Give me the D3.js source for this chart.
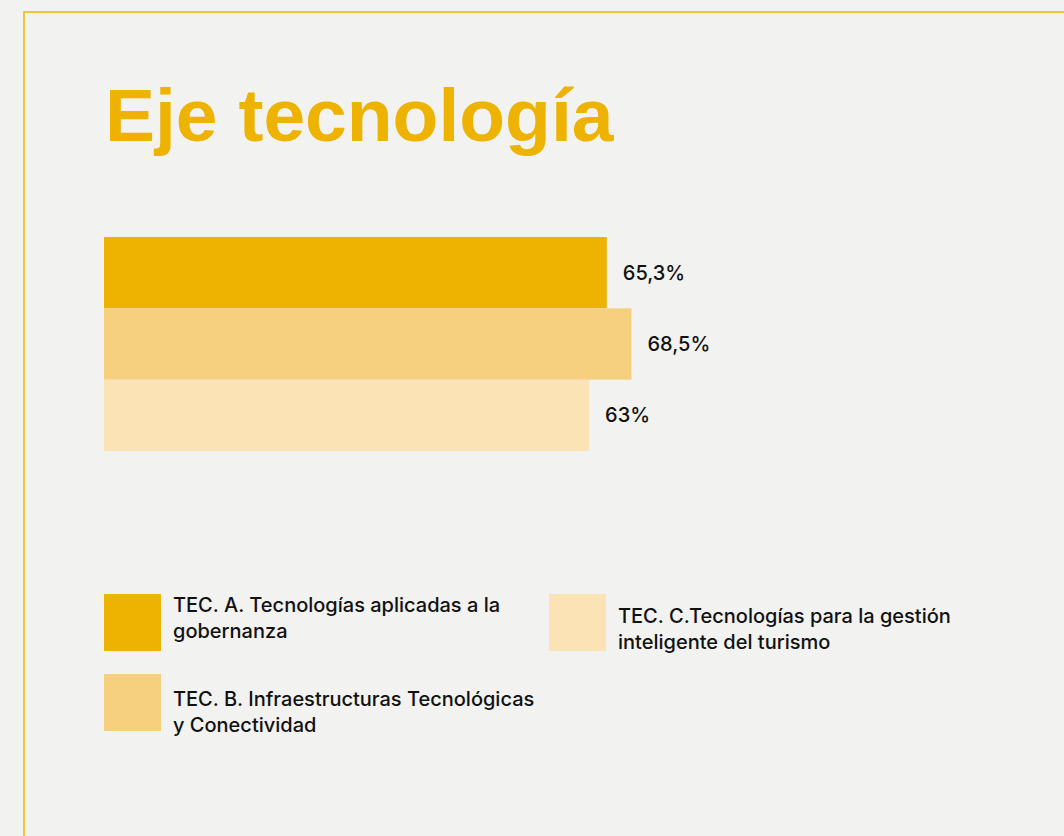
<!DOCTYPE html>
<html>
<head>
<meta charset="utf-8">
<script src="https://cdn.jsdelivr.net/npm/d3@7"></script>
<style>
  html, body { margin: 0; padding: 0; background: #f2f2f0; }
  svg { display: block; }
</style>
</head>
<body>
<div id="chart"></div>
<script>
const categories = ["TEC. A", "TEC. B", "TEC. C"]
const values = [65.3, 68.5, 63]
const valueLabels = ["65,3%", "68,5%", "63%"]
const legendLines = [
    ["TEC. A. Tecnologías aplicadas a la", "gobernanza"],
    ["TEC. B. Infraestructuras Tecnológicas", "y Conectividad"],
    ["TEC. C.Tecnologías para la gestión", "inteligente del turismo"]
]
const colors = ["#eeb200", "#f6d07e", "#fbe3b6"]

const W = 1064, H = 836

const svg = d3.select("#chart")
    .append("svg")
    .attr("width", W)
    .attr("height", H)

svg.append("rect")
    .attr("width", W)
    .attr("height", H)
    .attr("fill", "#f2f2f0")

// frame, open on the right and bottom
svg.append("path")
    .attr("d", `M24,${H + 5} V12 H${W + 5}`)
    .attr("fill", "none")
    .attr("stroke", "#f3c43a")
    .attr("stroke-width", 2)

svg.append("text")
    .attr("x", 105)
    .attr("y", 141)
    .attr("font-family", "Liberation Sans, Arial, sans-serif")
    .attr("font-weight", "bold")
    .attr("font-size", 75)
    .attr("fill", "#eeb200")
    .text("Eje tecnología")

const x = d3.scaleLinear()
    .domain([0, 100])
    .range([104, 104 + 770])

const y = d3.scaleBand()
    .domain(categories)
    .range([237, 451])
    .padding(0)

const g = svg.append("g")

g.selectAll("rect.bar")
    .data(values)
    .join("rect")
        .classed("bar", true)
        .attr("x", x(0))
        .attr("y", (d, i) => y(categories[i]))
        .attr("width", d => x(d) - x(0))
        .attr("height", y.bandwidth())
        .attr("fill", (d, i) => colors[i])

g.selectAll("text.val")
    .data(values)
    .join("text")
        .classed("val", true)
        .attr("x", d => x(d) + 16)
        .attr("y", (d, i) => y(categories[i]) + y.bandwidth() / 2)
        .attr("dy", "0.35em")
        .attr("font-family", "Inter, sans-serif")
        .attr("font-weight", 500)
        .attr("font-size", 20)
        .attr("fill", "#111")
        .text((d, i) => valueLabels[i])

// legend: two columns, A and B on the left, C on the right
const legendPos = [
    {x: 104, y: 594, ty: 612},
    {x: 104, y: 674, ty: 706},
    {x: 549, y: 594, ty: 623}
]
const sw = 57

const legend = svg.selectAll("g.legend")
    .data(categories)
    .join("g")
        .classed("legend", true)
        .attr("transform", (d, i) => `translate(${legendPos[i].x}, ${legendPos[i].y})`)

legend.append("rect")
    .attr("width", sw)
    .attr("height", sw)
    .attr("fill", (d, i) => colors[i])

legend.append("text")
    .attr("font-family", "Inter, sans-serif")
    .attr("font-weight", 500)
    .attr("font-size", 20)
    .attr("fill", "#111")
    .each(function(d, i) {
        d3.select(this).selectAll("tspan")
            .data(legendLines[i])
            .join("tspan")
                .attr("x", sw + 12)
                .attr("y", (l, j) => legendPos[i].ty - legendPos[i].y + j * 26)
                .text(l => l)
    })
</script>
</body>
</html>
